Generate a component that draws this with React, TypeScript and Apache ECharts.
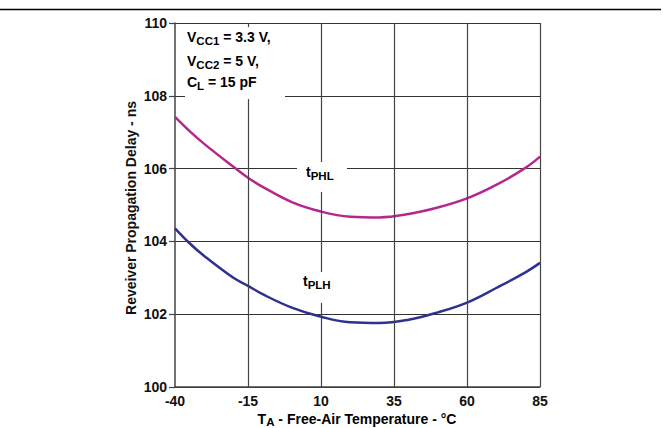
import React, { useEffect, useRef } from "react";
import * as echarts from "echarts";

const temps = [-40, -35, -30, -20, -15, -10, 0, 10, 20, 30, 40, 50, 60, 70, 80, 85];
const tPHL = [107.42, 107.03, 106.68, 106.05, 105.75, 105.5, 105.08, 104.82, 104.68, 104.66, 104.75, 104.93, 105.18, 105.55, 106.02, 106.33];
const tPLH = [104.36, 103.95, 103.6, 103.0, 102.78, 102.55, 102.18, 101.93, 101.78, 101.76, 101.85, 102.05, 102.32, 102.72, 103.15, 103.41];
const xTicks = [-40, -15, 10, 35, 60, 85];
const yMin = 100;
const yMax = 110;
const yStep = 2;

const FONT = "Liberation Sans, Arial, sans-serif";

export default function App() {
  const ref = useRef<HTMLDivElement>(null);
  useEffect(() => {
    if (!ref.current) return;
    const chart = echarts.init(ref.current, null, { renderer: "svg" });
    const subRich = {
      n: { fontSize: 14, fontWeight: "bold", fontFamily: FONT, color: "#111", lineHeight: 16, verticalAlign: "top" },
      s: { fontSize: 11.5, fontWeight: "bold", fontFamily: FONT, color: "#111", lineHeight: 13, padding: [5, 0, 0, 0], verticalAlign: "top" },
    };
    const nameRich = {
      n: { fontSize: 14, fontWeight: "bold", fontFamily: FONT, color: "#111", lineHeight: 15, verticalAlign: "top" },
      s: { fontSize: 11.5, fontWeight: "bold", fontFamily: FONT, color: "#111", lineHeight: 11, padding: [4, 0, 0, 0], verticalAlign: "top" },
    };
    chart.setOption({
      animation: false,
      backgroundColor: "#fff",
      grid: { left: 175, right: 123, top: 23, bottom: 41, containLabel: false, outerBoundsMode: "none" },
      xAxis: {
        type: "value",
        min: -40,
        max: 85,
        axisLine: { show: true, onZero: false, lineStyle: { color: "#444", width: 1.5 } },
        axisTick: { show: false, customValues: xTicks },
        splitLine: { show: false },
        axisLabel: {
          customValues: xTicks,
          fontFamily: FONT,
          fontWeight: "bold",
          fontSize: 14,
          color: "#111",
          margin: 7,
        },
      },
      yAxis: {
        type: "value",
        min: yMin,
        max: yMax,
        interval: yStep,
        axisLine: { show: true, onZero: false, lineStyle: { color: "#444", width: 1.5 } },
        axisTick: { show: true, inside: false, length: 6, lineStyle: { color: "#444", width: 1.2 } },
        splitLine: { show: true, lineStyle: { color: "#333", width: 1.2 } },
        axisLabel: {
          fontFamily: FONT,
          fontWeight: "bold",
          fontSize: 14,
          color: "#111",
          margin: 8,
        },
      },
      series: [
        {
          type: "line",
          data: [],
          z: 1,
          markLine: {
            silent: true,
            symbol: "none",
            label: { show: false },
            lineStyle: { color: "#444", width: 1.2, type: "solid" },
            data: xTicks.slice(1).map((v) => ({ xAxis: v })),
          },
        },
        {
          name: "tPHL",
          type: "line",
          z: 3,
          data: temps.map((t, i) => [t, tPHL[i]]),
          smooth: 0.4,
          showSymbol: false,
          lineStyle: { color: "#b5278f", width: 2.5 },
        },
        {
          name: "tPLH",
          type: "line",
          z: 3,
          data: temps.map((t, i) => [t, tPLH[i]]),
          smooth: 0.4,
          showSymbol: false,
          lineStyle: { color: "#2e3190", width: 2.5 },
        },
      ],
      graphic: [
        { type: "line", z: 100, shape: { x1: 0, y1: 9.5, x2: 661, y2: 9.5 }, style: { stroke: "#000", lineWidth: 1.5 } },
        {
          type: "text",
          z: 101,
          x: 131,
          y: 208,
          rotation: Math.PI / 2,
          style: {
            text: "Reveiver Propagation Delay - ns",
            fontFamily: FONT,
            fontWeight: "bold",
            fontSize: 14,
            fill: "#111",
            align: "center",
            verticalAlign: "middle",
          },
        },
        {
          type: "text",
          z: 101,
          x: 357,
          y: 412,
          style: {
            text: "{n|T}{s|A}{n| - Free-Air Temperature - °C}",
            rich: nameRich,
            align: "center",
            verticalAlign: "top",
          },
        },
        { type: "rect", z: 100, shape: { x: 185, y: 27, width: 100, height: 72 }, style: { fill: "#fff" } },
        { type: "text", z: 101, x: 187, y: 30, style: { text: "{n|V}{s|CC1}{n| = 3.3 V,}", rich: subRich } },
        { type: "text", z: 101, x: 187, y: 54, style: { text: "{n|V}{s|CC2}{n| = 5 V,}", rich: subRich } },
        { type: "text", z: 101, x: 187, y: 75, style: { text: "{n|C}{s|L}{n| = 15 pF}", rich: subRich } },
        { type: "rect", z: 100, shape: { x: 297, y: 162, width: 50, height: 30 }, style: { fill: "#fff" } },
        { type: "text", z: 101, x: 306, y: 165, style: { text: "{n|t}{s|PHL}", rich: subRich } },
        { type: "rect", z: 100, shape: { x: 300, y: 272, width: 36, height: 31 }, style: { fill: "#fff" } },
        { type: "text", z: 101, x: 303, y: 274, style: { text: "{n|t}{s|PLH}", rich: subRich } },
      ],
    });
    return () => chart.dispose();
  }, []);
  return <div ref={ref} style={{ position: "absolute", left: 0, top: 0, width: 663, height: 428 }} />;
}
